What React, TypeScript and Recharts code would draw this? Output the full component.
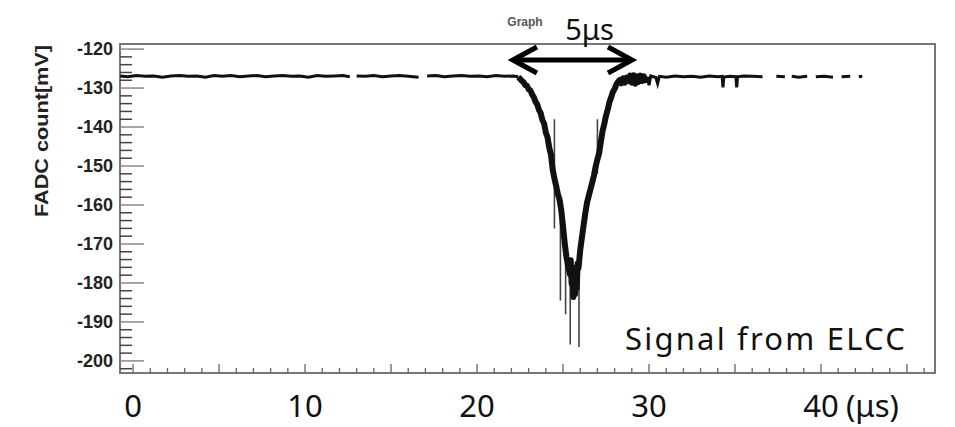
import { LineChart, Line, XAxis, YAxis, ReferenceArea, ReferenceLine } from 'recharts'

// FADC waveform: [time (μs), FADC count (mV)], null = gap in the trace
const baselineBefore: Array<[number, number | null]> = [
  [-0.75, -126.9], [-0.3, -127.1], [0.2, -126.8], [0.7, -127.0], [1.2, -126.9], [1.7, -127.2],
  [2.2, -126.9], [2.7, -126.8], [3.2, -127.0], [3.7, -126.9], [4.2, -127.2], [4.7, -126.8],
  [5.2, -127.0], [5.7, -126.8], [6.2, -127.1], [6.7, -126.9], [7.2, -126.8], [7.7, -127.1],
  [8.2, -126.9], [8.7, -126.8], [9.2, -127.0], [9.7, -126.9], [10.2, -127.2], [10.7, -126.8],
  [11.2, -127.0], [11.7, -126.9], [12.2, -126.8], [12.6, -127.1], [12.8, null], [13.0, -126.9],
  [13.5, -127.0], [14.0, -126.8], [14.5, -127.1], [15.0, -126.9], [15.5, -126.8], [16.0, -127.0],
  [16.6, -127.2], [16.85, null], [17.1, -126.9], [17.6, -126.8], [18.1, -127.1], [18.6, -126.9],
  [19.1, -126.8], [19.6, -127.0], [20.1, -126.9], [20.6, -127.1], [21.1, -126.8], [21.6, -127.0],
  [22.1, -126.9], [22.4, -127.1],
]

const pulse: Array<[number, number]> = [
  [22.4, -127.2], [22.5, -127.6], [22.6, -128.1], [22.7, -128.5], [22.8, -129.2], [22.9, -129.4],
  [23.0, -130.3], [23.1, -130.6], [23.2, -131.6], [23.3, -132.3], [23.4, -133.5], [23.5, -134.2],
  [23.6, -135.6], [23.7, -136.4], [23.8, -138.2], [23.9, -139.1], [24.0, -141.4], [24.1, -142.6],
  [24.2, -145.3], [24.3, -147.1], [24.4, -150.9], [24.5, -153.2], [24.6, -155.1], [24.7, -157.2],
  [24.8, -158.6], [24.9, -161.4], [25.0, -165.5], [25.1, -169.8], [25.2, -173.4], [25.3, -175.6],
  [25.4, -177.8], [25.45, -174.2], [25.5, -180.1], [25.55, -176.0], [25.6, -183.6], [25.65, -177.2],
  [25.7, -182.9], [25.75, -176.4], [25.8, -181.3], [25.85, -175.0], [25.9, -176.2], [26.0, -171.6],
  [26.1, -168.3], [26.2, -165.1], [26.3, -162.0], [26.4, -159.3], [26.5, -157.6], [26.6, -155.9],
  [26.7, -154.2], [26.8, -152.4], [26.9, -150.1], [27.0, -148.3], [27.1, -146.7], [27.2, -143.8],
  [27.3, -141.0], [27.4, -139.2], [27.5, -137.1], [27.6, -135.5], [27.7, -133.6], [27.8, -132.4],
  [27.9, -131.0], [28.0, -130.2], [28.1, -129.1], [28.2, -128.4], [28.3, -127.9], [28.4, -128.8],
  [28.5, -127.5], [28.6, -128.6], [28.7, -127.3], [28.8, -128.2], [28.9, -126.8], [29.0, -128.6],
  [29.1, -126.7], [29.2, -128.9], [29.3, -127.0], [29.4, -128.4], [29.5, -126.8], [29.6, -128.2],
  [29.7, -127.0], [29.8, -128.0], [29.9, -127.1],
]

// thin grey excursions around the pulse minimum
const spikes: Array<[number, number | null]> = [
  [24.5, -138.0], [24.5, -166.0], [24.6, null],
  [24.85, -160.0], [24.85, -184.5], [24.9, null],
  [25.15, -172.0], [25.15, -188.0], [25.2, null],
  [25.42, -178.0], [25.42, -195.8], [25.5, null],
  [25.93, -176.0], [25.93, -196.4], [26.0, null],
  [27.0, -138.0], [27.0, -152.0],
]

const baselineAfter: Array<[number, number | null]> = [
  [29.9, -127.1], [30.0, -129.3], [30.1, -126.9], [30.4, -127.3], [30.5, -128.8], [30.6, -127.0],
  [31.0, -127.2], [31.5, -126.9], [32.0, -127.1], [32.5, -127.0], [33.0, -127.2], [33.5, -126.9],
  [34.0, -127.1], [34.25, -127.0], [34.3, -129.8], [34.35, -127.2], [34.7, -127.0], [35.05, -127.1],
  [35.1, -129.8], [35.15, -127.1], [35.5, -126.9], [36.0, -127.0], [36.6, -127.1], [36.8, null],
  [37.4, -127.0], [37.9, -127.1], [38.1, null], [38.3, -127.0], [38.7, -127.2], [39.2, -127.0],
  [39.4, null], [39.7, -127.1], [40.2, -127.0], [40.7, -127.2], [40.9, null], [41.2, -127.1],
  [41.7, -127.0], [42.0, null], [42.2, -127.1], [42.4, -127.0],
]

const xDomain: [number, number] = [-0.76, 46.63]
const yDomain: [number, number] = [-203.1, -118.7]
const xLabelTicks = [0, 10, 20, 30, 40]
const yLabelTicks = [-200, -190, -180, -170, -160, -150, -140, -130, -120]
const arrowSpan: [number, number] = [22.03, 29.07]
const arrowLevel = -122.8

const xTicks = Array.from({ length: 47 }, (_, i) => i)
const yTicks = Array.from({ length: 42 }, (_, i) => -202 + 2 * i)

const toRows = (pts: Array<[number, number | null]>) => pts.map(([t, v]) => ({ t, v }))

const rootFont = '"Liberation Sans", Arial, sans-serif'
const noteFont = '"Noto Sans", sans-serif'

function YTick({ x, y, payload }: any) {
  const v = payload.value
  const major = yLabelTicks.includes(v)
  const left = x + 7
  return (
    <g>
      <line x1={left} x2={left + (major ? 24 : 12)} y1={y} y2={y} stroke={major ? '#888' : '#444'} strokeWidth={1.5} />
      {major && (
        <text x={x} y={y} dy={6} textAnchor="end" fontFamily={rootFont} fontWeight="bold" fontSize={18} fill="#222">
          {v}
        </text>
      )}
    </g>
  )
}

function XTick({ x, y, payload }: any) {
  const v = payload.value
  const major = v % 5 === 0
  return (
    <g>
      <line x1={x} x2={x} y1={y} y2={y - (major ? 9 : 5)} stroke="#666" strokeWidth={1.3} />
      {xLabelTicks.includes(v) && (
        <text x={x} y={y + 44} textAnchor="middle" fontFamily={noteFont} fontSize={31} fill="#111">
          {v}
        </text>
      )}
      {v === 40 && (
        <text x={x + 25} y={y + 44} textAnchor="start" fontFamily={noteFont} fontSize={31} fill="#111">
          (μs)
        </text>
      )}
    </g>
  )
}

function WidthArrow({ x1, y1, x2 }: any) {
  return (
    <g>
      <line x1={x1 + 2} x2={x2 - 2} y1={y1} y2={y1} stroke="#000" strokeWidth={5} />
      <polyline points={`${x1 + 25},${y1 - 13} ${x1 + 1},${y1} ${x1 + 25},${y1 + 13}`} fill="none" stroke="#000" strokeWidth={5} />
      <polyline points={`${x2 - 25},${y1 - 13} ${x2 - 1},${y1} ${x2 - 25},${y1 + 13}`} fill="none" stroke="#000" strokeWidth={5} />
      <text x={(x1 + x2) / 2 + 17} y={y1 - 20} textAnchor="middle" fontFamily={noteFont} fontSize={29} fill="#111">
        5μs
      </text>
    </g>
  )
}

export default function App() {
  return (
    <div style={{ position: 'absolute', left: 0, top: 0, width: 955, height: 427, background: '#fff' }}>
      <LineChart width={955} height={427} margin={{ top: 44, right: 20, bottom: 24, left: 60 }}>
        <XAxis
          dataKey="t"
          type="number"
          domain={xDomain}
          allowDataOverflow
          ticks={xTicks}
          interval={0}
          height={30}
          axisLine={false}
          tickLine={false}
          tickSize={0}
          tickMargin={0}
          tick={<XTick />}
        />
        <YAxis
          type="number"
          domain={yDomain}
          allowDataOverflow
          ticks={yTicks}
          interval={0}
          width={60}
          axisLine={false}
          tickLine={false}
          tickSize={0}
          tickMargin={7}
          tick={<YTick />}
        />
        <ReferenceArea x1={xDomain[0]} x2={xDomain[1]} y1={yDomain[0]} y2={yDomain[1]} fill="none" stroke="#777" strokeWidth={2} />
        <Line data={toRows(baselineBefore)} dataKey="v" type="linear" stroke="#111" strokeWidth={3} dot={false} isAnimationActive={false} />
        <Line data={toRows(spikes)} dataKey="v" type="linear" stroke="#444" strokeWidth={1.6} dot={false} isAnimationActive={false} />
        <Line data={toRows(pulse)} dataKey="v" type="linear" stroke="#111" strokeWidth={6} strokeLinejoin="round" dot={false} isAnimationActive={false} />
        <Line data={toRows(baselineAfter)} dataKey="v" type="linear" stroke="#111" strokeWidth={3} dot={false} isAnimationActive={false} />
        <ReferenceLine
          segment={[{ x: arrowSpan[0], y: arrowLevel }, { x: arrowSpan[1], y: arrowLevel }]}
          shape={<WidthArrow />}
        />
      </LineChart>
      <svg width={955} height={427} style={{ position: 'absolute', left: 0, top: 0, pointerEvents: 'none' }}>
        <text x={525} y={26} textAnchor="middle" fontFamily={rootFont} fontWeight="bold" fontSize={12} fill="#555">
          Graph
        </text>
        <text
          x={42}
          y={131}
          transform="rotate(-90 42 131)"
          textAnchor="middle"
          dy={6}
          fontFamily={rootFont}
          fontWeight="bold"
          fontSize={18}
          textLength={172}
          lengthAdjust="spacingAndGlyphs"
          fill="#222"
        >
          FADC count[mV]
        </text>
        <text x={625} y={350} fontFamily={noteFont} fontSize={31} letterSpacing={2.2} fill="#111">
          Signal from ELCC
        </text>
      </svg>
    </div>
  )
}
